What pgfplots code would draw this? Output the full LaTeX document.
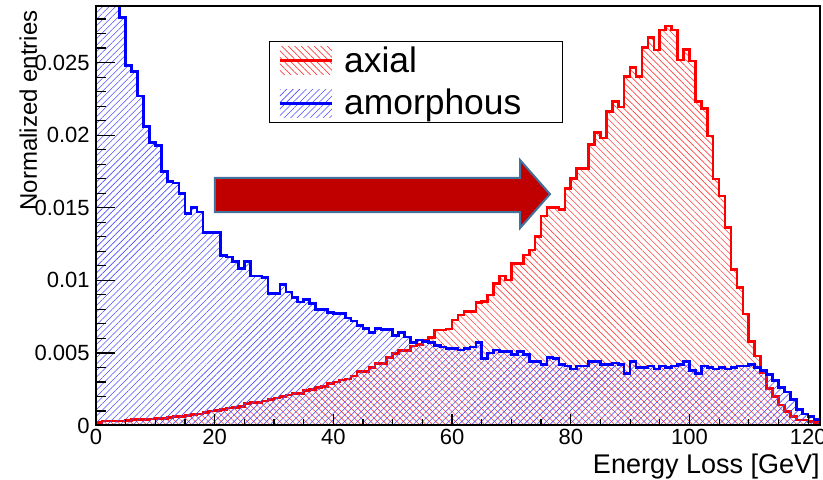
\documentclass[border=0pt]{standalone}
\usepackage{fontspec}
\setmainfont{Liberation Sans}
\usepackage{pgfplots}
\usepackage{pgfplotstable}
\pgfplotsset{compat=1.18}
\usetikzlibrary{patterns.meta}
\definecolor{arrowred}{HTML}{C00000}
\definecolor{arrowblue}{HTML}{41719C}

\pgfplotstableread{
x y
0 0.040
1 0.036
2 0.033
3 0.0305
4 0.0281
5 0.0248
6 0.0244
7 0.0227
8 0.0206
9 0.0195
10 0.0193
11 0.0175
12 0.0168
13 0.0167
14 0.0160
15 0.0146
16 0.0150
17 0.0147
18 0.0133
19 0.0133
20 0.0133
21 0.0117
22 0.0116
23 0.0113
24 0.0108
25 0.0113
26 0.0103
27 0.0103
28 0.0102
29 0.0091
30 0.0091
31 0.0097
32 0.0092
33 0.0088
34 0.0085
35 0.0087
36 0.0084
37 0.0080
38 0.0080
39 0.0078
40 0.0077
41 0.0077
42 0.0074
43 0.0072
44 0.0069
45 0.0067
46 0.0064
47 0.0067
48 0.0066
49 0.0066
50 0.0062
51 0.0064
52 0.0061
53 0.0057
54 0.0059
55 0.0058
56 0.0057
57 0.0055
58 0.0054
59 0.0053
60 0.0053
61 0.0052
62 0.0053
63 0.0054
64 0.0057
65 0.0046
66 0.0050
67 0.0052
68 0.0051
69 0.0051
70 0.0049
71 0.0051
72 0.0049
73 0.0044
74 0.0044
75 0.0042
76 0.0047
77 0.0046
78 0.0042
79 0.0041
80 0.0039
81 0.0041
82 0.0041
83 0.0044
84 0.0044
85 0.0042
86 0.0042
87 0.0043
88 0.0042
89 0.0036
90 0.0044
91 0.0040
92 0.0040
93 0.0041
94 0.0039
95 0.0041
96 0.0040
97 0.0041
98 0.0042
99 0.0044
100 0.0038
101 0.0036
102 0.0041
103 0.0040
104 0.0039
105 0.0040
106 0.0039
107 0.0040
108 0.0041
109 0.0041
110 0.0042
111 0.0040
112 0.0038
113 0.0035
114 0.0031
115 0.0026
116 0.0023
117 0.0018
118 0.0011
119 0.0008
120 0.0006
121 0.0004
122 0.0004
}\amorphous

\pgfplotstableread{
x y
0 0.0002
1 0.0003
2 0.0003
3 0.0003
4 0.0003
5 0.00035
6 0.0004
7 0.0004
8 0.0004
9 0.00045
10 0.0005
11 0.0005
12 0.00055
13 0.0006
14 0.0006
15 0.0007
16 0.00075
17 0.0008
18 0.0009
19 0.0010
20 0.00105
21 0.0011
22 0.0012
23 0.00125
24 0.0013
25 0.0015
26 0.0016
27 0.0016
28 0.0017
29 0.0018
30 0.0019
31 0.0020
32 0.0021
33 0.0022
34 0.0022
35 0.0024
36 0.0025
37 0.0026
38 0.0027
39 0.0029
40 0.0030
41 0.00313
42 0.0032
43 0.00341
44 0.0037
45 0.0037
46 0.0040
47 0.00428
48 0.00428
49 0.00467
50 0.00497
51 0.00515
52 0.00515
53 0.00548
54 0.00559
55 0.00589
56 0.00607
57 0.00658
58 0.00658
59 0.00665
60 0.00727
61 0.00761
62 0.00784
63 0.00784
64 0.00846
65 0.00853
66 0.00899
67 0.00979
68 0.0103
69 0.01002
70 0.01117
71 0.01117
72 0.01174
73 0.01209
74 0.0130
75 0.01443
76 0.01503
77 0.01503
78 0.01489
79 0.01633
80 0.01702
81 0.01771
82 0.01771
83 0.01937
84 0.02017
85 0.0198
86 0.02163
87 0.0223
88 0.02195
89 0.02405
90 0.02466
91 0.02405
92 0.02602
93 0.02673
94 0.02586
95 0.02724
96 0.02751
97 0.02724
98 0.02517
99 0.02591
100 0.02512
101 0.0223
102 0.02184
103 0.01994
104 0.01698
105 0.01581
106 0.01362
107 0.01076
108 0.00951
109 0.00768
110 0.00577
111 0.00479
112 0.00364
113 0.00256
114 0.00199
115 0.00141
116 0.00095
117 0.00061
118 0.00038
119 0.00038
120 0.00026
121 0.0002
122 0.0002
}\axial

\begin{document}
\begin{tikzpicture}
\useasboundingbox (-48pt,-27.25pt) rectangle (363.5pt,212.75pt);
\begin{axis}[
  scale only axis,
  width=362pt, height=209.75pt,
  xmin=0, xmax=122, ymin=0, ymax=0.0289,
  axis on top,
  axis line style={line width=1pt},
  /pgf/number format/assume math mode=true,
  xtick={0,20,40,60,80,100,120},
  minor xtick={5,10,15,25,30,35,45,50,55,65,70,75,85,90,95,105,110,115},
  ytick={0,0.005,0.01,0.015,0.02,0.025},
  yticklabels={0,0.005,0.01,0.015,0.02,0.025},
  minor ytick={0.001,0.002,0.003,0.004,0.006,0.007,0.008,0.009,0.011,0.012,0.013,0.014,0.016,0.017,0.018,0.019,0.021,0.022,0.023,0.024,0.026,0.027,0.028},
  scaled y ticks=false,
  xtick pos=bottom, ytick pos=left,
  tick align=inside,
  xtick style={black, line width=0.6pt, /pgfplots/major tick length=5.5pt, /pgfplots/minor tick length=3pt},
  ytick style={black, line width=0.6pt, /pgfplots/major tick length=9.5pt, /pgfplots/minor tick length=5pt},
  xticklabel style={font=\fontsize{11}{13}\selectfont, inner sep=0pt, anchor=north, yshift=-1.75pt},
  yticklabel style={font=\fontsize{11}{13}\selectfont, inner sep=0pt, anchor=east, xshift=-3pt},
  xlabel={Energy Loss [GeV]},
  ylabel={Normalized entries},
  every axis x label/.style={at={(axis description cs:1,-0.1156)}, anchor=base east, inner sep=0pt, font=\fontsize{13.5}{16}\selectfont},
  every axis y label/.style={at={(axis description cs:-0.0815,0.99)}, rotate=90, anchor=base east, inner sep=0pt, font=\fontsize{12}{14}\selectfont},
  legend cell align=left,
  legend image code/.code={
    \path[#1, draw=none] (0pt,-7pt) rectangle (26pt,7pt);
    \draw[#1] (0pt,0pt) -- (26pt,0pt);
  },
  legend style={at={(axis description cs:0.239,0.917)}, anchor=north west, draw=black, line width=0.6pt,
    font=\fontsize{17.7}{20}\selectfont, inner xsep=4.5pt, inner ysep=1.5pt, row sep=5pt,
    nodes={inner sep=1pt}},
  /tikz/every odd column/.append style={column sep=4.5pt},
]
\addplot[const plot, draw=red, line width=1.3pt,
  pattern={Lines[angle=-45,distance=2.3pt,line width=0.3pt]}, pattern color=red!75]
  table[x=x,y=y] {\axial} \closedcycle;
\addlegendentry{axial}
\addplot[const plot, draw=blue, line width=1.3pt,
  pattern={Lines[angle=45,distance=2.3pt,line width=0.3pt]}, pattern color=blue!70]
  table[x=x,y=y] {\amorphous} \closedcycle;
\addlegendentry{amorphous\hspace*{15pt}}
\draw[fill=arrowred, draw=arrowblue, line width=1pt]
  (axis cs:20.05,0.01470) -- (axis cs:71.45,0.01470) -- (axis cs:71.45,0.01360)
  -- (axis cs:76.5,0.01594) -- (axis cs:71.45,0.01829) -- (axis cs:71.45,0.01705)
  -- (axis cs:20.05,0.01705) -- cycle;
\end{axis}
\end{tikzpicture}
\end{document}
